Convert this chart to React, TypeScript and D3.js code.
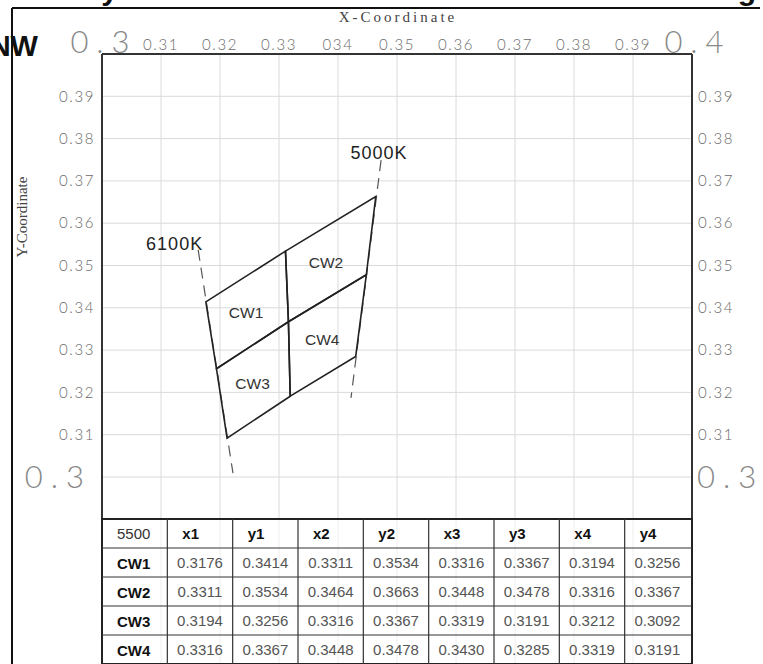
import React from "react";
import * as d3 from "d3";

// ---- data ----
const bins = ["CW1", "CW2", "CW3", "CW4"];
const x1 = [0.3176, 0.3311, 0.3194, 0.3316];
const y1 = [0.3414, 0.3534, 0.3256, 0.3367];
const x2 = [0.3311, 0.3464, 0.3316, 0.3448];
const y2 = [0.3534, 0.3663, 0.3367, 0.3478];
const x3 = [0.3316, 0.3448, 0.3319, 0.3430];
const y3 = [0.3367, 0.3478, 0.3191, 0.3285];
const x4 = [0.3194, 0.3316, 0.3212, 0.3319];
const y4 = [0.3256, 0.3367, 0.3092, 0.3191];

const tableHeader = ["5500", "x1", "y1", "x2", "y2", "x3", "y3", "x4", "y4"];
const tableValues = [
  ["0.3176", "0.3414", "0.3311", "0.3534", "0.3316", "0.3367", "0.3194", "0.3256"],
  ["0.3311", "0.3534", "0.3464", "0.3663", "0.3448", "0.3478", "0.3316", "0.3367"],
  ["0.3194", "0.3256", "0.3316", "0.3367", "0.3319", "0.3191", "0.3212", "0.3092"],
  ["0.3316", "0.3367", "0.3448", "0.3478", "0.3430", "0.3285", "0.3319", "0.3191"],
];

const xTickVals = [0.31, 0.32, 0.33, 0.34, 0.35, 0.36, 0.37, 0.38, 0.39];
const xTickLabels = ["0.31", "0.32", "0.33", "034", "0.35", "0.36", "0.37", "0.38", "0.39"];
const yTickVals = [0.31, 0.32, 0.33, 0.34, 0.35, 0.36, 0.37, 0.38, 0.39];
const yTickLabels = ["0.31", "0.32", "0.33", "0.34", "0.35", "0.36", "0.37", "0.38", "0.39"];
const yGridVals = [0.30, 0.31, 0.32, 0.33, 0.34, 0.35, 0.36, 0.37, 0.38, 0.39];

const cctLabels = ["6100K", "5000K"];
const cctTopX = [0.3163, 0.3473];
const cctTopY = [0.3537, 0.3749];
const cctBottomX = [0.3222, 0.3422];
const cctBottomY = [0.3009, 0.3187];

// ---- layout ----
const W = 763;
const H = 664;
const plotL = 102;
const plotR = 692;
const plotT = 54;
const tableT = 519;
const rowH = 29;

const x = d3.scaleLinear().domain([0.3, 0.4]).range([plotL, plotR]);
const y = d3.scaleLinear().domain([0.3, 0.4]).range([477, plotT]);

const colX = d3.scaleLinear().domain([0, 9]).range([plotL, plotR - 2]);

const thinFont = "Lato, 'DejaVu Sans', sans-serif";
const arial = "'Liberation Sans', Arial, sans-serif";
const serif = "'Liberation Serif', 'DejaVu Serif', serif";

export default function App() {
  const line = d3.line<[number, number]>().x((d) => x(d[0])).y((d) => y(d[1]));
  const quads = bins.map((b, i) => {
    const pts: [number, number][] = [
      [x1[i], y1[i]],
      [x2[i], y2[i]],
      [x3[i], y3[i]],
      [x4[i], y4[i]],
    ];
    return { b, pts, cx: d3.mean(pts, (p) => p[0])!, cy: d3.mean(pts, (p) => p[1])! };
  });

  return (
    <svg
      width={W}
      height={H}
      style={{ position: "absolute", left: 0, top: 0, display: "block", background: "#fff" }}
    >
      <rect x={0} y={0} width={W} height={H} fill="#fff" />
      {/* cut-off title */}
      <text x={118} y={0} textAnchor="end" fontFamily={arial} fontWeight="bold" fontSize={30} fill="#111">
        Chromaticity
      </text>
      <text x={756} y={0} textAnchor="end" fontFamily={arial} fontWeight="bold" fontSize={30} fill="#111">
        Binning
      </text>

      {/* outer frame */}
      <line x1={12} y1={8} x2={760} y2={8} stroke="#111" strokeWidth={2} />
      <line x1={12} y1={8} x2={12} y2={H} stroke="#111" strokeWidth={2} />

      <text x={38} y={56} textAnchor="end" fontFamily={arial} fontWeight="bold" fontSize={29} fill="#111">
        NW
      </text>

      {/* grid */}
      {xTickVals.map((v) => (
        <g key={"gx" + v}>
          <line x1={x(v)} x2={x(v)} y1={plotT} y2={tableT} stroke="#dadada" strokeWidth={1} />
          <line x1={x(v)} x2={x(v)} y1={tableT} y2={H} stroke="#eeeeee" strokeWidth={1} />
        </g>
      ))}
      {yGridVals.map((v) => (
        <line key={"gy" + v} x1={plotL} x2={plotR} y1={y(v)} y2={y(v)} stroke="#dadada" strokeWidth={1} />
      ))}

      {/* axis lines */}
      <line x1={plotL} x2={plotR} y1={plotT} y2={plotT} stroke="#333" strokeWidth={2} />
      <line x1={plotL} x2={plotL} y1={plotT} y2={tableT} stroke="#333" strokeWidth={2} />
      <line x1={plotR} x2={plotR} y1={plotT} y2={H} stroke="#333" strokeWidth={2} />

      {/* axis titles */}
      <text x={398} y={22} textAnchor="middle" fontFamily={serif} fontSize={15} letterSpacing={3} fill="#444">
        X-Coordinate
      </text>
      <text
        transform={`translate(27,217) rotate(-90)`}
        textAnchor="middle"
        fontFamily={serif}
        fontSize={15}
        fill="#444"
      >
        Y-Coordinate
      </text>

      {/* top tick labels */}
      {xTickVals.map((v, i) => (
        <text key={"xt" + v} x={x(v)} y={50} textAnchor="middle" fontFamily={thinFont} fontWeight={300} fontSize={15} letterSpacing={1.6} fill="#6a6a6a">
          {xTickLabels[i]}
        </text>
      ))}
      <text x={x(0.3) + 2} y={53} textAnchor="middle" fontFamily={thinFont} fontWeight={300} fontSize={31} letterSpacing={8} fill="#888">
        0.3
      </text>
      <text x={x(0.4) + 6} y={53} textAnchor="middle" fontFamily={thinFont} fontWeight={300} fontSize={31} letterSpacing={8} fill="#888">
        0.4
      </text>

      {/* left / right tick labels */}
      {yTickVals.map((v, i) => (
        <g key={"yt" + v}>
          <text x={95} y={y(v)} dy="0.35em" textAnchor="end" fontFamily={thinFont} fontWeight={300} fontSize={15} letterSpacing={1.6} fill="#6a6a6a">
            {yTickLabels[i]}
          </text>
          <text x={698} y={y(v)} dy="0.35em" textAnchor="start" fontFamily={thinFont} fontWeight={300} fontSize={15} letterSpacing={1.6} fill="#6a6a6a">
            {yTickLabels[i]}
          </text>
        </g>
      ))}
      <text x={92} y={y(0.3)} dy="0.36em" textAnchor="end" fontFamily={thinFont} fontWeight={300} fontSize={31} letterSpacing={8} fill="#888">
        0.3
      </text>
      <text x={697} y={y(0.3)} dy="0.36em" textAnchor="start" fontFamily={thinFont} fontWeight={300} fontSize={31} letterSpacing={8} fill="#888">
        0.3
      </text>

      {/* CCT dashed lines */}
      {cctLabels.map((lab, i) => (
        <g key={lab}>
          <line
            x1={x(cctTopX[i])}
            y1={y(cctTopY[i])}
            x2={x(cctBottomX[i])}
            y2={y(cctBottomY[i])}
            stroke="#555"
            strokeWidth={1.2}
            strokeDasharray="11 7"
          />
          <text
            x={x(cctTopX[i]) + (i === 0 ? 5 : -2)}
            y={y(cctTopY[i]) - (i === 0 ? 0 : 1)}
            textAnchor={i === 0 ? "end" : "middle"}
            fontFamily={arial}
            fontSize={18}
            letterSpacing={1}
            fill="#222"
          >
            {lab}
          </text>
        </g>
      ))}

      {/* bins */}
      {quads.map((q) => (
        <g key={q.b}>
          <path d={line(q.pts)! + "Z"} fill="none" stroke="#222" strokeWidth={1.6} strokeLinejoin="miter" />
          <text x={x(q.cx) - 3} y={y(q.cy) + 2} dy="0.35em" textAnchor="middle" fontFamily={arial} fontSize={15.5} fill="#333">
            {q.b}
          </text>
        </g>
      ))}

      {/* table */}
      <rect x={plotL} y={tableT} width={plotR - plotL} height={H - tableT} fill="none" stroke="#222" strokeWidth={2} />
      {d3.range(1, 5).map((r) => (
        <line key={"tr" + r} x1={plotL} x2={plotR} y1={tableT + r * rowH} y2={tableT + r * rowH} stroke="#333" strokeWidth={1.2} />
      ))}
      {d3.range(1, 9).map((c) => (
        <line key={"tc" + c} x1={colX(c)} x2={colX(c)} y1={tableT} y2={H} stroke="#333" strokeWidth={1.2} />
      ))}
      {tableHeader.map((h, c) => (
        <text
          key={"th" + c}
          x={colX(c) + 15}
          y={tableT + rowH / 2}
          dy="0.38em"
          fontFamily={arial}
          fontWeight={c === 0 ? "normal" : "bold"}
          fontSize={15}
          fill={c === 0 ? "#333" : "#111"}
        >
          {h}
        </text>
      ))}
      {bins.map((b, r) => (
        <g key={"row" + b}>
          <text
            x={colX(0) + 15}
            y={tableT + (r + 1) * rowH + rowH / 2}
            dy="0.4em"
            fontFamily={arial}
            fontWeight="bold"
            fontSize={15}
            fill="#111"
          >
            {b}
          </text>
          {tableValues[r].map((v, c) => (
            <text
              key={"tv" + c}
              x={(colX(c + 1) + colX(c + 2)) / 2}
              y={tableT + (r + 1) * rowH + rowH / 2}
              dy="0.35em"
              textAnchor="middle"
              fontFamily={arial}
              fontSize={15}
              fill="#555"
            >
              {v}
            </text>
          ))}
        </g>
      ))}
    </svg>
  );
}
